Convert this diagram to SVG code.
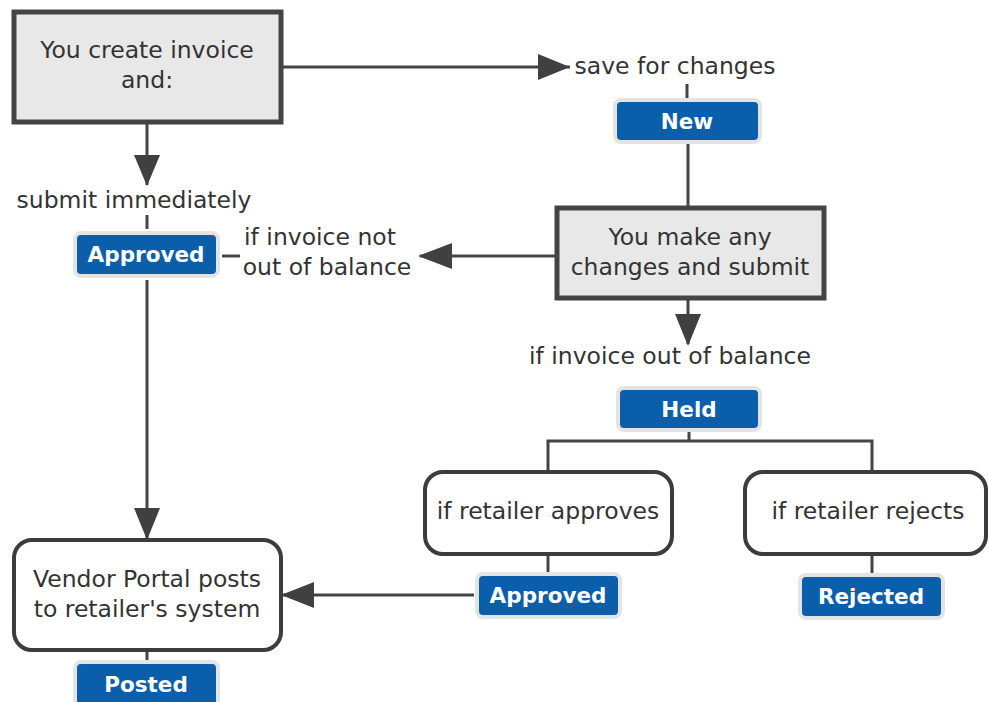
<svg xmlns="http://www.w3.org/2000/svg" width="989" height="702" viewBox="0 0 989 702">
<defs>
<style>
.t{font-family:"DejaVu Sans",Verdana,sans-serif;font-size:23.5px;fill:#333;text-anchor:middle}
.bt{font-family:"DejaVu Sans",Verdana,sans-serif;font-size:21.5px;font-weight:bold;fill:#fff;text-anchor:middle}
.sq{fill:#e8e8e8;stroke:#444;stroke-width:5}
.rd{fill:#fff;stroke:#3c3c3c;stroke-width:4}
.bd{fill:#0b5ea9;stroke:#e4e4e4;stroke-width:4}
.ln{stroke:#444;stroke-width:3;fill:none}
.ah{fill:#404040}
</style>
</defs>
<g id="connectors">
<line class="ln" x1="281" y1="67" x2="570" y2="67"/>
<path class="ah" d="M538,54L570,67L538,80z"/>
<line class="ln" x1="687" y1="84" x2="687" y2="98"/>
<line class="ln" x1="688" y1="143" x2="688" y2="208"/>
<line class="ln" x1="557" y1="256" x2="420" y2="256"/>
<path class="ah" d="M452,243L418,256L452,269z"/>
<line class="ln" x1="222" y1="256" x2="240" y2="256"/>
<line class="ln" x1="147" y1="122" x2="147" y2="185"/>
<path class="ah" d="M134,155L147,186L160,155z"/>
<line class="ln" x1="147" y1="215" x2="147" y2="229"/>
<line class="ln" x1="147" y1="280" x2="147" y2="538"/>
<path class="ah" d="M134,508L147,540L160,508z"/>
<line class="ln" x1="688" y1="298" x2="688" y2="344"/>
<path class="ah" d="M675,314L688,346L701,314z"/>
<line class="ln" x1="689" y1="431" x2="689" y2="441"/>
<path class="ln" d="M548,472V441H872V472"/>
<line class="ln" x1="548" y1="554" x2="548" y2="572"/>
<line class="ln" x1="872" y1="554" x2="872" y2="574"/>
<line class="ln" x1="474" y1="595" x2="283" y2="595"/>
<path class="ah" d="M314,582L281,595L314,608z"/>
<line class="ln" x1="147" y1="650" x2="147" y2="662"/>
</g>
<g id="create">
<rect class="sq" x="14" y="12" width="267" height="110"/>
<text class="t" x="147" y="58">You create invoice</text>
<text class="t" x="147" y="88">and:</text>
</g>
<g id="lbl-save"><text class="t" x="675" y="74">save for changes</text></g>
<g id="new"><rect class="bd" x="615" y="100" width="145" height="42" rx="6"/><text class="bt" x="687" y="129">New</text></g>
<g id="lbl-submit"><text class="t" x="134" y="208">submit immediately</text></g>
<g id="approved1"><rect class="bd" x="75" y="233" width="143" height="43" rx="6"/><text class="bt" x="146" y="262">Approved</text></g>
<g id="lbl-notout">
<text class="t" x="320" y="245">if invoice not</text>
<text class="t" x="327" y="275">out of balance</text>
</g>
<g id="change">
<rect class="sq" x="557" y="208" width="267" height="90"/>
<text class="t" x="690" y="245">You make any</text>
<text class="t" x="690" y="275">changes and submit</text>
</g>
<g id="lbl-out"><text class="t" x="670" y="364">if invoice out of balance</text></g>
<g id="held"><rect class="bd" x="618" y="388" width="142" height="42" rx="6"/><text class="bt" x="689" y="417">Held</text></g>
<g id="approves"><rect class="rd" x="425" y="472" width="247" height="82" rx="18"/><text class="t" x="548" y="519">if retailer approves</text></g>
<g id="rejects"><rect class="rd" x="745" y="472" width="241" height="82" rx="18"/><text class="t" x="868" y="519">if retailer rejects</text></g>
<g id="approved2"><rect class="bd" x="477" y="574" width="143" height="43" rx="6"/><text class="bt" x="548" y="603">Approved</text></g>
<g id="rejected"><rect class="bd" x="800" y="575" width="143" height="43" rx="6"/><text class="bt" x="871" y="604">Rejected</text></g>
<g id="posts">
<rect class="rd" x="14" y="540" width="267" height="110" rx="18"/>
<text class="t" x="147" y="587">Vendor Portal posts</text>
<text class="t" x="147" y="617">to retailer's system</text>
</g>
<g id="posted"><rect class="bd" x="75" y="662" width="143" height="45" rx="6"/><text class="bt" x="146" y="692">Posted</text></g>
</svg>
